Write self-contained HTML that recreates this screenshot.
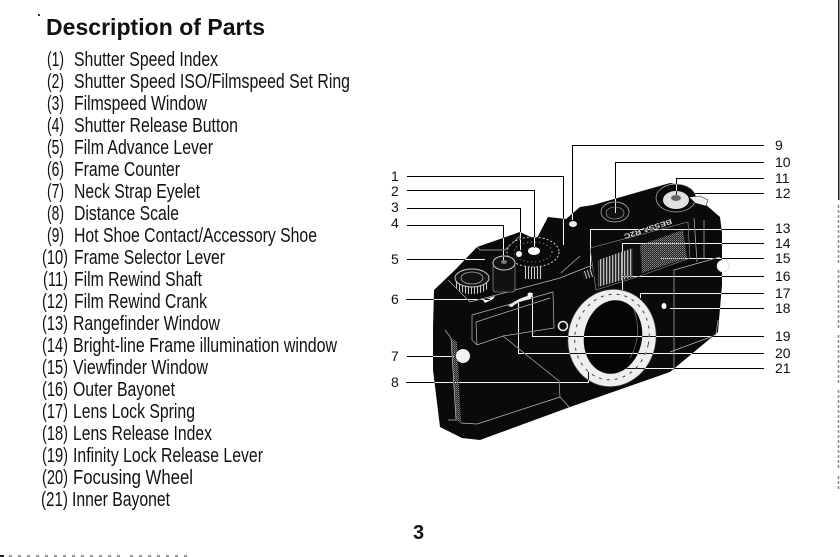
<!DOCTYPE html>
<html><head><meta charset="utf-8"><style>
html,body{margin:0;padding:0;background:#fff;width:840px;height:557px;overflow:hidden}
svg{display:block}
text{font-family:"Liberation Sans",sans-serif;fill:#111}
.l text{font-size:20px}
.n text{font-size:14px}
</style></head><body>
<svg width="840" height="557" viewBox="0 0 840 557" xmlns="http://www.w3.org/2000/svg">
<defs>
<pattern id="vh" width="3" height="3" patternUnits="userSpaceOnUse"><rect width="3" height="3" fill="#222"/><rect width="1.3" height="3" fill="#bbb"/></pattern>
<pattern id="st" width="2" height="2" patternUnits="userSpaceOnUse"><rect width="2" height="2" fill="#222"/><rect width="1" height="1" fill="#888"/><rect x="1" y="1" width="1" height="1" fill="#666"/></pattern>
<pattern id="kn" width="3" height="3" patternUnits="userSpaceOnUse"><rect width="3" height="3" fill="#111"/><rect width="1" height="3" fill="#ccc"/></pattern>
</defs>
<rect width="840" height="557" fill="#fff"/>
<text x="46" y="35" font-size="23" font-weight="bold" textLength="219" lengthAdjust="spacing">Description of Parts</text>
<rect x="38" y="14" width="2" height="2" fill="#333"/>
<g class="l">
<text x="47" y="66" textLength="17" lengthAdjust="spacingAndGlyphs">(1)</text><text x="74" y="66" textLength="144" lengthAdjust="spacingAndGlyphs">Shutter Speed Index</text>
<text x="47" y="88" textLength="17" lengthAdjust="spacingAndGlyphs">(2)</text><text x="74" y="88" textLength="276" lengthAdjust="spacingAndGlyphs">Shutter Speed ISO/Filmspeed Set Ring</text>
<text x="47" y="110" textLength="17" lengthAdjust="spacingAndGlyphs">(3)</text><text x="74" y="110" textLength="133" lengthAdjust="spacingAndGlyphs">Filmspeed Window</text>
<text x="47" y="132" textLength="17" lengthAdjust="spacingAndGlyphs">(4)</text><text x="74" y="132" textLength="164" lengthAdjust="spacingAndGlyphs">Shutter Release Button</text>
<text x="47" y="154" textLength="17" lengthAdjust="spacingAndGlyphs">(5)</text><text x="74" y="154" textLength="139" lengthAdjust="spacingAndGlyphs">Film Advance Lever</text>
<text x="47" y="176" textLength="17" lengthAdjust="spacingAndGlyphs">(6)</text><text x="74" y="176" textLength="106" lengthAdjust="spacingAndGlyphs">Frame Counter</text>
<text x="47" y="198" textLength="17" lengthAdjust="spacingAndGlyphs">(7)</text><text x="74" y="198" textLength="126" lengthAdjust="spacingAndGlyphs">Neck Strap Eyelet</text>
<text x="47" y="220" textLength="17" lengthAdjust="spacingAndGlyphs">(8)</text><text x="74" y="220" textLength="105" lengthAdjust="spacingAndGlyphs">Distance Scale</text>
<text x="47" y="242" textLength="17" lengthAdjust="spacingAndGlyphs">(9)</text><text x="74" y="242" textLength="243" lengthAdjust="spacingAndGlyphs">Hot Shoe Contact/Accessory Shoe</text>
<text x="42" y="264" textLength="26" lengthAdjust="spacingAndGlyphs">(10)</text><text x="74" y="264" textLength="151" lengthAdjust="spacingAndGlyphs">Frame Selector Lever</text>
<text x="43" y="286" textLength="25" lengthAdjust="spacingAndGlyphs">(11)</text><text x="74" y="286" textLength="128" lengthAdjust="spacingAndGlyphs">Film Rewind Shaft</text>
<text x="42" y="308" textLength="26" lengthAdjust="spacingAndGlyphs">(12)</text><text x="74" y="308" textLength="133" lengthAdjust="spacingAndGlyphs">Film Rewind Crank</text>
<text x="42" y="330" textLength="26" lengthAdjust="spacingAndGlyphs">(13)</text><text x="73" y="330" textLength="147" lengthAdjust="spacingAndGlyphs">Rangefinder Window</text>
<text x="42" y="352" textLength="26" lengthAdjust="spacingAndGlyphs">(14)</text><text x="73" y="352" textLength="264" lengthAdjust="spacingAndGlyphs">Bright-line Frame illumination window</text>
<text x="42" y="374" textLength="26" lengthAdjust="spacingAndGlyphs">(15)</text><text x="73" y="374" textLength="135" lengthAdjust="spacingAndGlyphs">Viewfinder Window</text>
<text x="42" y="396" textLength="26" lengthAdjust="spacingAndGlyphs">(16)</text><text x="73" y="396" textLength="102" lengthAdjust="spacingAndGlyphs">Outer Bayonet</text>
<text x="42" y="418" textLength="26" lengthAdjust="spacingAndGlyphs">(17)</text><text x="73" y="418" textLength="122" lengthAdjust="spacingAndGlyphs">Lens Lock Spring</text>
<text x="42" y="440" textLength="26" lengthAdjust="spacingAndGlyphs">(18)</text><text x="73" y="440" textLength="139" lengthAdjust="spacingAndGlyphs">Lens Release Index</text>
<text x="42" y="462" textLength="26" lengthAdjust="spacingAndGlyphs">(19)</text><text x="73" y="462" textLength="190" lengthAdjust="spacingAndGlyphs">Infinity Lock Release Lever</text>
<text x="42" y="484" textLength="26" lengthAdjust="spacingAndGlyphs">(20)</text><text x="73" y="484" textLength="120" lengthAdjust="spacingAndGlyphs">Focusing Wheel</text>
<text x="41" y="506" textLength="27" lengthAdjust="spacingAndGlyphs">(21)</text><text x="72" y="506" textLength="98" lengthAdjust="spacingAndGlyphs">Inner Bayonet</text>
</g>
<text x="413" y="539" font-size="20" font-weight="bold">3</text>

<!-- camera body -->
<path d="M434 290 L455 270 L477 247 L520 232 L533 238 L537 238 L548 217 L566 219 L580 207 L593 205 L670 183 L683 185 L720 217 L722 233 L722 285 L718 332 L670 372 L570 407 L480 440 L462 438 L440 427 L433 370 L433 328 Z" fill="#0a0a0a"/>
<!-- grip -->
<path d="M451 338 L457 342 L461 423 L456 420 Z" fill="url(#st)"/>
<g fill="none" stroke="#bbb" stroke-width="0.7">
<path d="M445 330 L451 338 L456 420 L448 420"/>
<path d="M472 315 L553 292 L554 328 L503 336 L477 345 L472 340 Z"/>
<path d="M477 345 L476 322 L550 298"/>
<path d="M503 336 L559 381 L560 397 L570 408"/>
<path d="M461 423 L477 424 L560 397"/>
<path d="M448 280 L470 302 L560 278 L600 262"/>
<path d="M674 270 L674 372"/>
<path d="M674 270 L720 257"/>
<path d="M718 320 L716 335 L670 352"/>
<path d="M694 218 L697 262"/>
<path d="M704 220 L704 258"/>
<path d="M580 256 L561 273"/>
<path d="M477 247 L480 250 L505 250 L520 236"/>
</g>
<!-- front plate -->
<path d="M590 248 L688 222 L690 258 L640 276 L596 290 Z" fill="#0d0d0d" stroke="#999" stroke-width=".6"/>
<path d="M598 260 L633 248 L633 277 L598 287 Z" fill="url(#vh)"/>
<path d="M640 245 L683 230 L687 258 L642 273 Z" fill="url(#st)"/>
<rect x="583" y="270" width="11" height="8" fill="url(#kn)" transform="rotate(-18 588 274)"/>
<text transform="translate(671 219) rotate(162)" font-size="7" font-weight="bold" style="fill:#ddd" textLength="50" lengthAdjust="spacingAndGlyphs">BESSA R2C</text>
<!-- dials -->
<ellipse cx="615" cy="212" rx="14" ry="10" fill="#0a0a0a" stroke="#bbb" stroke-width=".7"/>
<ellipse cx="615" cy="213" rx="9" ry="6" fill="#111" stroke="#aaa" stroke-width=".6"/>
<ellipse cx="676" cy="198" rx="20" ry="14" fill="#0a0a0a" stroke="#bbb" stroke-width=".7"/>
<ellipse cx="676" cy="200" rx="13" ry="9" fill="#e0e0e0"/>
<ellipse cx="676" cy="198" rx="5" ry="3" fill="#666"/>
<path d="M689 197 L700 196 L708 200 L706 206 L695 203 Z" fill="#eee" stroke="#222" stroke-width=".6"/>
<circle cx="723" cy="266" r="6" fill="#fff" stroke="#ccc" stroke-width=".6"/>
<rect x="524" y="262" width="19" height="17" fill="url(#kn)"/>
<ellipse cx="533" cy="252" rx="26" ry="15" fill="#0a0a0a" stroke="#ccc" stroke-width="1" stroke-dasharray="2 2"/>
<ellipse cx="533" cy="252" rx="19" ry="10" fill="none" stroke="#999" stroke-width="1" stroke-dasharray="1 3"/>
<ellipse cx="534" cy="251" rx="6" ry="4" fill="#fff"/>
<circle cx="519" cy="254" r="3" fill="#fff"/>
<ellipse cx="573" cy="224" rx="4" ry="3" fill="#eee"/>
<rect x="493" y="264" width="22" height="28" rx="3" fill="#111" stroke="#aaa" stroke-width=".6"/>
<ellipse cx="504" cy="263" rx="11" ry="7" fill="#111" stroke="#ccc" stroke-width="1"/>
<ellipse cx="504" cy="262" rx="3" ry="2" fill="#777"/>
<ellipse cx="472" cy="285" rx="17" ry="9" fill="url(#kn)"/>
<ellipse cx="472" cy="278" rx="17" ry="9" fill="#111" stroke="#ccc" stroke-width="1"/>
<ellipse cx="472" cy="278" rx="11" ry="6" fill="none" stroke="#aaa" stroke-width=".8"/>
<path d="M483 300 L495 296 L493 299 L485 303 Z" fill="#fff"/>
<path d="M508 306 Q518 298 531 295 L531 299 Q518 301 512 307 Z" fill="#eee"/>
<circle cx="530" cy="295" r="2.5" fill="#fff"/>
<circle cx="463" cy="356" r="7" fill="#f2f2f2"/>
<circle cx="563" cy="326" r="4.5" fill="#0a0a0a" stroke="#eee" stroke-width="1.6"/>
<ellipse cx="664" cy="306" rx="2.5" ry="3" fill="#fff"/>
<!-- lens ring -->
<ellipse cx="612" cy="338" rx="44" ry="49" fill="#eee" stroke="#333" stroke-width=".8" transform="rotate(12 612 338)"/>
<ellipse cx="612" cy="337" rx="37" ry="43" fill="none" stroke="#444" stroke-width="1" stroke-dasharray="3 5" transform="rotate(12 612 337)"/>
<ellipse cx="613" cy="337" rx="29" ry="37" fill="#050505" transform="rotate(10 613 337)"/>
<path d="M634 310 Q643 335 630 358" fill="none" stroke="#777" stroke-width=".7"/>

<!-- leaders -->
<g fill="none" stroke="#fff" stroke-width="1" style="mix-blend-mode:difference">
<path d="M407 176.500H563.500V245"/>
<path d="M407 190.500H534.500V248"/>
<path d="M407 208.500H520.500V250"/>
<path d="M407 225.500H503.500V262"/>
<path d="M407 259.500H485"/>
<path d="M406 299.500H490"/>
<path d="M407 356.500H455"/>
<path d="M406 382.500H588.500V372"/>
<path d="M764 145.500H572.500V220"/>
<path d="M764 162.500H615.500V213"/>
<path d="M764 178.500H676.500V196"/>
<path d="M764 193.500H695"/>
<path d="M764 229.500H590.500V270"/>
<path d="M764 243.500H622.500V275"/>
<path d="M764 258.500H660"/>
<path d="M764 276.500H622.500V290"/>
<path d="M764 293.500H640.500V298"/>
<path d="M764 308.500H670"/>
<path d="M764 336.500H532.500V293"/>
<path d="M764 353.500H518.500V303"/>
<path d="M764 368.500H626"/>
</g>
<g class="n">
<text x="391" y="181">1</text><text x="391" y="196">2</text><text x="391" y="212">3</text><text x="391" y="228">4</text><text x="391" y="264">5</text><text x="391" y="304">6</text><text x="391" y="361">7</text><text x="391" y="387">8</text>
<text x="775" y="150">9</text><text x="775" y="167">10</text><text x="775" y="183">11</text><text x="775" y="198">12</text><text x="775" y="233">13</text><text x="775" y="248">14</text><text x="775" y="263">15</text><text x="775" y="281">16</text><text x="775" y="298">17</text><text x="775" y="313">18</text><text x="775" y="341">19</text><text x="775" y="358">20</text><text x="775" y="373">21</text>
</g>
<!-- scan noise -->
<rect x="838" y="0" width="1.500" height="200" fill="#222"/>
<path d="M838.500 205V265M838.500 270V330M838.500 335V385M838.500 390V470M838.500 476V490" stroke="#888" stroke-width="1.500" stroke-dasharray="3 2" fill="none"/>
<path d="M0 556H120M130 556H190" stroke="#777" stroke-width="1.500" stroke-dasharray="3 6" fill="none"/>
<rect x="0" y="555" width="4" height="2" fill="#222"/>
</svg>
</body></html>
